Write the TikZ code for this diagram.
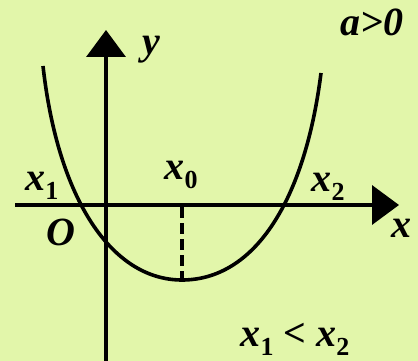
\documentclass[tikz,border=0pt]{standalone}
\usepackage{fontspec}
\setmainfont{Liberation Serif}
\usetikzlibrary{arrows.meta}
\definecolor{bgc}{RGB}{226,246,170}
\newcommand{\lowidx}[1]{\raisebox{-0.22em}{\fontsize{26}{28}\selectfont\upshape #1}}
\begin{document}
\begin{tikzpicture}[x=1pt,y=-1pt,
  lab/.style={font=\fontsize{40}{44}\selectfont\bfseries\itshape, inner sep=0pt},
  axis/.style={line width=3.6pt, -{Triangle[length=27pt,width=39pt]}},
  curve/.style={line width=3.6pt},
  guide/.style={line width=3.8pt, dash pattern=on 11pt off 5pt}]
\fill[bgc] (0,0) rectangle (418,361);
\useasboundingbox (0,0) rectangle (418,361);
\coordinate (xs) at (15,205);
\coordinate (xe) at (399,205);
\coordinate (ys) at (106,361);
\coordinate (ye) at (106,30);
\coordinate (cl) at (43,66);
\coordinate (cr) at (321,73);
\coordinate (v) at (182,280);
\coordinate (vx) at (182,207);
\draw[axis] (xs) -- (xe);
\draw[axis] (ys) -- (ye);
\draw[curve] (cl) .. controls (58,200) and (112,280) .. (v)
                  .. controls (255,280) and (305,200) .. (cr);
\draw[guide] (vx) -- (v);
\node[lab] (ly) at (151,50) {y};
\node[lab] (la) at (372,22) {a>0};
\node[lab] (lx1) at (42,186) {x\lowidx{1}};
\node[lab] (lx0) at (181,175) {x\lowidx{0}};
\node[lab] (lo) at (61,232) {O};
\node[lab] (lx2) at (328,187) {x\lowidx{2}};
\node[lab] (lx) at (401,228) {x};
\node[lab] (lin) at (295,339) {x\lowidx{1} < x\lowidx{2}};
\end{tikzpicture}
\end{document}
